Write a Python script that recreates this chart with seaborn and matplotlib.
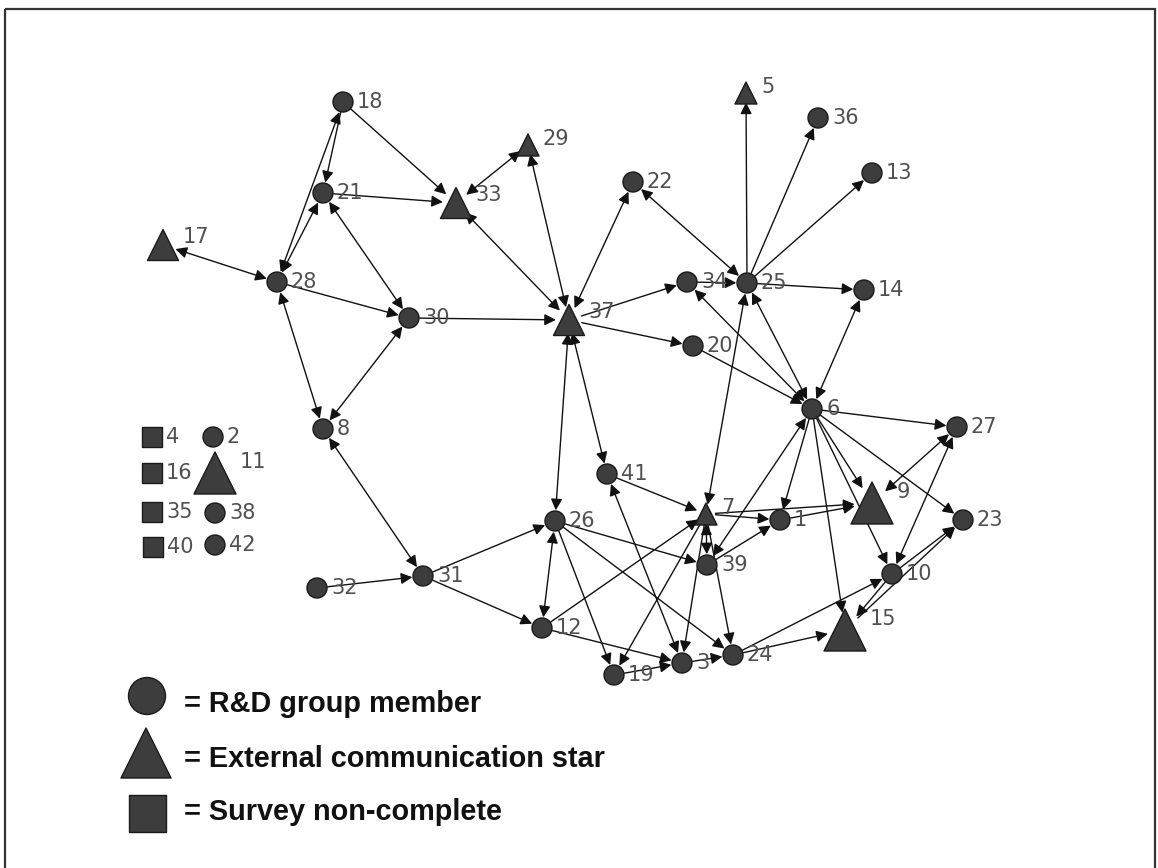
import numpy as np
import pandas as pd
import matplotlib
matplotlib.use("Agg")
import matplotlib.pyplot as plt
from matplotlib.patches import Rectangle
import seaborn as sns

# ---------------- data ----------------
node_ids = [1, 2, 3, 4, 5, 6, 7, 8, 9, 10, 11, 12, 13, 14, 15, 16, 17, 18, 19, 20, 21,
            22, 23, 24, 25, 26, 27, 28, 29, 30, 31, 32, 33, 34, 35, 36, 37, 38, 39, 40, 41, 42]
node_x = [780, 213, 682, 152, 746, 812, 706, 323, 872, 892, 215, 542, 872, 864, 845, 152, 163, 343, 614, 693, 323,
          633, 963, 733, 747, 555, 957, 277, 528, 409, 423, 317, 456, 687, 152, 818, 569, 215, 707, 153, 607, 215]
node_y = [520, 437, 663, 437, 93, 409, 514, 429, 503, 574, 473, 628, 173, 290, 630, 473, 245, 102, 675, 346, 193,
          182, 520, 655, 283, 521, 427, 282, 145, 318, 576, 588, 203, 282, 512, 118, 320, 513, 565, 547, 474, 545]
# member = R&D group member, star = external communication star, noncomplete = survey non-complete
node_kind = ["member", "member", "member", "noncomplete", "star", "member", "star", "member", "star", "member",
             "star", "member", "member", "member", "star", "noncomplete", "star", "member", "member", "member",
             "member", "member", "member", "member", "member", "member", "member", "member", "star", "member",
             "member", "member", "star", "member", "noncomplete", "member", "star", "member", "member",
             "noncomplete", "member", "member"]
# prominence level of external communication stars (0 for others)
star_level = [0, 0, 0, 0, 1, 0, 1, 0, 3, 0, 3, 0, 0, 0, 3, 0, 2, 0, 0, 0, 0,
              0, 0, 0, 0, 0, 0, 0, 1, 0, 0, 0, 2, 0, 0, 0, 2, 0, 0, 0, 0, 0]

# directed ties: (source, target); reciprocal ties listed in both_ties
one_way_ties = [(18, 21), (18, 33), (21, 33), (28, 30), (30, 37), (37, 34), (37, 20), (20, 6), (34, 25),
                (25, 5), (25, 36), (25, 13), (25, 14), (41, 7), (6, 27), (6, 9), (6, 1), (6, 15), (6, 23),
                (6, 10), (7, 1), (39, 1), (1, 9), (7, 9), (10, 23), (15, 23), (10, 15), (24, 10), (24, 15),
                (26, 39), (26, 24), (26, 19), (31, 26), (31, 12), (32, 31), (12, 7), (12, 3), (7, 19),
                (7, 3), (7, 24), (19, 3), (3, 24)]
both_ties = [(18, 28), (21, 28), (21, 30), (17, 28), (28, 8), (30, 8), (8, 31), (33, 29), (37, 33),
             (37, 29), (37, 22), (22, 25), (6, 34), (6, 25), (6, 14), (25, 7), (37, 26), (37, 41),
             (6, 39), (9, 27), (10, 27), (26, 12), (7, 39), (41, 3)]

legend_kinds = ["member", "star", "noncomplete"]
legend_texts = ["= R&D group member", "= External communication star", "= Survey non-complete"]

# ---------------- styling ----------------
PX2PT = 72.0 / 100.0
circle_px = 20
square_px = 20
level_px = {1: 22, 2: 31, 3: 42}
fill = "#3d3d3d"
edge = "#1a1a1a"

def node_px(kind, lvl):
    if kind == "star":
        return level_px[lvl]
    return circle_px if kind == "member" else square_px

df = pd.DataFrame({"id": node_ids, "x": node_x, "y": node_y, "kind": node_kind, "level": star_level})
df["px"] = [node_px(k, l) for k, l in zip(df["kind"], df["level"])]
df["area"] = (df["px"] * PX2PT) ** 2
pos = {r.id: (r.x, r.y) for r in df.itertuples()}
size_of = {r.id: r.px for r in df.itertuples()}
kind_of = {r.id: r.kind for r in df.itertuples()}

sns.set_style("white")
fig = plt.figure(figsize=(11.58, 8.68), dpi=100)
ax = fig.add_axes([0, 0, 1, 1])
ax.set_xlim(0, 1158)
ax.set_ylim(868, 0)
ax.axis("off")

markers = {"member": "o", "star": "^", "noncomplete": "s"}

def shrink(n):
    r = size_of[n] / 2.0
    if kind_of[n] == "star":
        r *= 0.8
    return r * PX2PT + 0.5

arrow_common = dict(mutation_scale=17, lw=1.0, color="#111111")
for s, t in one_way_ties:
    ax.annotate("", xy=pos[t], xytext=pos[s], zorder=2,
                arrowprops=dict(arrowstyle="-|>", shrinkA=shrink(s), shrinkB=shrink(t), **arrow_common))
for s, t in both_ties:
    ax.annotate("", xy=pos[t], xytext=pos[s], zorder=2,
                arrowprops=dict(arrowstyle="<|-|>", shrinkA=shrink(s), shrinkB=shrink(t), **arrow_common))

sizes = {v: v for v in df["area"].unique()}
sns.scatterplot(data=df, x="x", y="y", style="kind", markers=markers, size="area", sizes=sizes,
                color=fill, edgecolor=edge, linewidth=1.0, legend=False, ax=ax, zorder=4)

for r in df.itertuples():
    half = r.px / 2.0
    if r.kind == "star":
        dx, dy = half + 4, -0.27 * r.px
    else:
        dx, dy = half + 4, 0
    ax.text(r.x + dx, r.y + dy, str(r.id), fontsize=15, color="#505050", family="DejaVu Sans",
            ha="left", va="center", zorder=5)

# bottom key
key_df = pd.DataFrame({"kind": legend_kinds, "text": legend_texts})
key_df["x"] = [147, 146, 147]
key_df["y"] = [696, 753, 813]
key_df["px"] = [37, 50, 37]
key_df["area"] = (key_df["px"] * PX2PT) ** 2
sns.scatterplot(data=key_df, x="x", y="y", style="kind", markers=markers, size="area",
                sizes={v: v for v in key_df["area"].unique()}, color=fill, edgecolor=edge,
                linewidth=1.0, legend=False, ax=ax, zorder=4)
for r, base in zip(key_df.itertuples(), [712, 767, 820]):
    ax.text(184, base, r.text, fontsize=20.8, fontweight="bold", family="Liberation Sans",
            color="#111111", ha="left", va="baseline")

ax.add_patch(Rectangle((5, 9), 1150, 900, fill=False, lw=1.6, ec="#333333", zorder=1))

fig.savefig("out.png", dpi=100)
